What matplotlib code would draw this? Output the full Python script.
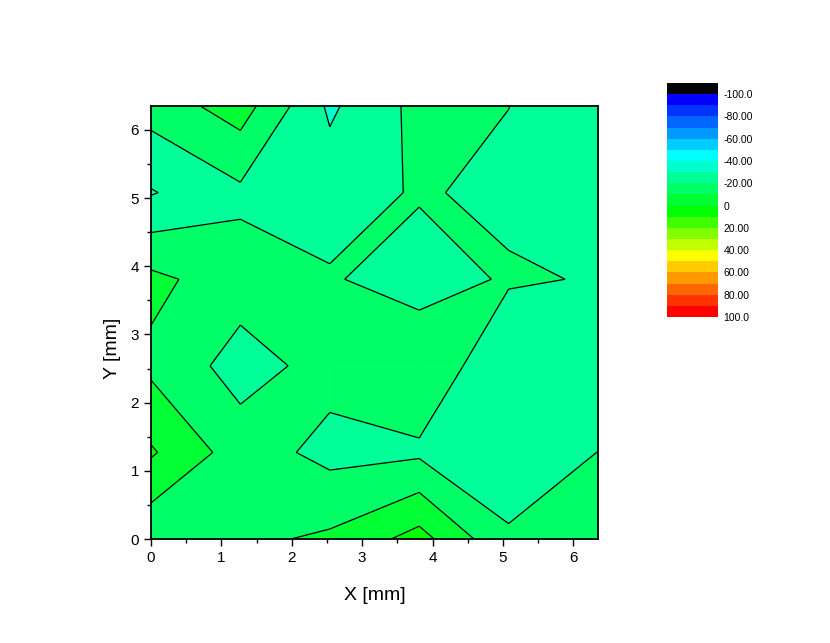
import numpy as np
import matplotlib
matplotlib.use("Agg")
import matplotlib.pyplot as plt
from matplotlib.collections import PolyCollection, LineCollection
from matplotlib.colors import ListedColormap, BoundaryNorm
from matplotlib.cm import ScalarMappable

plt.rcParams['font.family'] = ['Liberation Sans', 'DejaVu Sans']

# measurement grid [mm]
x_mm = [0, 1.27, 2.54, 3.81, 5.08, 6.35]
y_mm = [0, 1.27, 2.54, 3.81, 5.08, 6.35]
# values, one row per y (bottom row first)
z_rows = [
    [-18.0, -12.2, -8.3, 3.8, -18.7, -15.0],
    [1.2, -15.0, -23.0, -21.8, -26.0, -19.9],
    [-12.2, -24.0, -16.5, -11.0, -29.3, -27.0],
    [-7.5, -15.5, -19.0, -25.0, -18.8, -20.7],
    [-30.7, -22.0, -24.6, -19.0, -22.4, -26.0],
    [-15.8, -5.3, -31.7, -17.0, -19.9, -28.0],
]

levels = list(range(-100, 101, 10))
# first colour is for values below -100, then one per band
band_colors = ['#000000',
               '#0000ff', '#0033ff', '#0066ff', '#0099ff', '#00ccff',
               '#00ffff', '#00ffcc', '#00ff99', '#00ff66', '#00ff33',
               '#00ff00', '#40ff00', '#80ff00', '#bfff00', '#ffff00',
               '#ffcc00', '#ff9900', '#ff6600', '#ff3300', '#ff0000']
cbar_ticks = [-100, -80, -60, -40, -20, 0, 20, 40, 60, 80, 100]
cbar_labels = ['-100.0', '-80.00', '-60.00', '-40.00', '-20.00', '0',
               '20.00', '40.00', '60.00', '80.00', '100.0']

X = np.array(x_mm)
Y = np.array(y_mm)
Z = np.array(z_rows)


def region_above(level):
    # straight-edge marching squares; in saddle cells the high corners join
    polys, segs = [], []
    for j in range(len(Y) - 1):
        for i in range(len(X) - 1):
            cx = [X[i], X[i + 1], X[i + 1], X[i]]
            cy = [Y[j], Y[j], Y[j + 1], Y[j + 1]]
            cz = [Z[j, i], Z[j, i + 1], Z[j + 1, i + 1], Z[j + 1, i]]
            pts, cut = [], []
            for k in range(4):
                k2 = (k + 1) % 4
                if cz[k] >= level:
                    pts.append((cx[k], cy[k]))
                    cut.append(False)
                if (cz[k] >= level) != (cz[k2] >= level):
                    t = (level - cz[k]) / (cz[k2] - cz[k])
                    pts.append((cx[k] + t * (cx[k2] - cx[k]),
                                cy[k] + t * (cy[k2] - cy[k])))
                    cut.append(True)
            if len(pts) >= 3:
                polys.append(pts)
                for a in range(len(pts)):
                    b = (a + 1) % len(pts)
                    if cut[a] and cut[b]:
                        segs.append([pts[a], pts[b]])
    return polys, segs


fig = plt.figure(figsize=(8.3, 6.43), dpi=100)
ax = fig.add_axes([0.1819, 0.1617, 0.5386, 0.6734])

zmin, zmax = Z.min(), Z.max()
all_segs = []
for n, lev in enumerate(levels):
    if lev <= zmin - 10 or lev > zmax:
        continue
    polys, segs = region_above(lev)
    ax.add_collection(PolyCollection(polys, facecolors=band_colors[n + 1],
                                     edgecolors='face', linewidths=0.6))
    all_segs += segs
ax.add_collection(LineCollection(all_segs, colors='black', linewidths=0.9))

ax.set_xlim(0, 6.35)
ax.set_ylim(0, 6.35)
ax.set_xticks(range(0, 7))
ax.set_yticks(range(0, 7))
ax.set_xticks(np.arange(0.5, 6.4, 1), minor=True)
ax.set_yticks(np.arange(0.5, 6.4, 1), minor=True)
ax.tick_params(which='both', direction='out', width=1.0, labelsize=11)
ax.tick_params(which='major', length=5)
ax.tick_params(which='minor', length=3)
for s in ax.spines.values():
    s.set_linewidth(1.3)
ax.set_xlabel('X [mm]', fontsize=14, labelpad=16)
ax.set_ylabel('Y [mm]', fontsize=14)
ax.yaxis.set_label_coords(-0.067, 0.44)

# colour scale
cax = fig.add_axes([0.8036, 0.507, 0.0614, 0.3639])
bounds = [-110] + levels
cmap = ListedColormap(band_colors)
norm = BoundaryNorm(bounds, cmap.N)
cb = fig.colorbar(ScalarMappable(norm=norm, cmap=cmap), cax=cax,
                  boundaries=bounds, ticks=cbar_ticks)
cb.ax.invert_yaxis()
cb.outline.set_visible(False)
cb.minorticks_off()
cb.ax.set_yticklabels(cbar_labels)
cb.ax.tick_params(which='both', length=0, pad=4, labelsize=7.5)

fig.savefig('out.png', dpi=100)
